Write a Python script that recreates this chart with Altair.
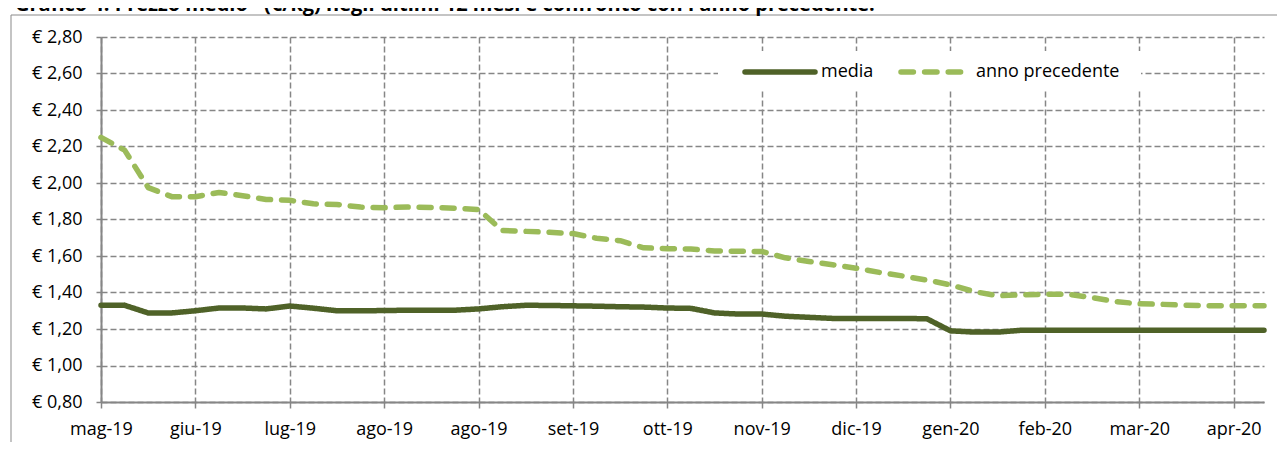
import altair as alt
import pandas as pd

# ---- data ----
date = [
    "2019-05-09", "2019-05-16", "2019-05-23", "2019-05-30",
    "2019-06-06", "2019-06-13", "2019-06-20", "2019-06-27",
    "2019-07-04", "2019-07-11", "2019-07-18", "2019-07-25",
    "2019-08-01", "2019-08-08", "2019-08-15", "2019-08-22",
    "2019-08-29", "2019-09-05", "2019-09-12", "2019-09-19",
    "2019-09-26", "2019-10-03", "2019-10-10", "2019-10-17",
    "2019-10-24", "2019-10-31", "2019-11-07", "2019-11-14",
    "2019-11-21", "2019-11-28", "2019-12-05", "2019-12-12",
    "2019-12-19", "2019-12-26", "2020-01-02", "2020-01-09",
    "2020-01-16", "2020-01-23", "2020-01-30", "2020-02-06",
    "2020-02-13", "2020-02-20", "2020-02-27", "2020-03-05",
    "2020-03-12", "2020-03-19", "2020-03-26", "2020-04-02",
    "2020-04-09", "2020-04-18",
]

media = [
    1.330, 1.330, 1.288, 1.288, 1.300, 1.315, 1.315, 1.310,
    1.326, 1.314, 1.300, 1.300, 1.301, 1.303, 1.303, 1.303,
    1.310, 1.322, 1.330, 1.329, 1.327, 1.325, 1.322, 1.320,
    1.315, 1.313, 1.288, 1.282, 1.282, 1.270, 1.264, 1.258,
    1.258, 1.258, 1.258, 1.256, 1.190, 1.183, 1.183, 1.193,
    1.193, 1.193, 1.193, 1.193, 1.193, 1.193, 1.193, 1.193,
    1.193, 1.193,
]

anno_precedente = [
    2.250, 2.180, 1.975, 1.925, 1.925, 1.948, 1.930, 1.910,
    1.905, 1.886, 1.882, 1.868, 1.865, 1.868, 1.866, 1.862,
    1.855, 1.740, 1.735, 1.730, 1.723, 1.697, 1.684, 1.645,
    1.640, 1.638, 1.628, 1.626, 1.625, 1.590, 1.570, 1.552,
    1.533, 1.510, 1.490, 1.468, 1.442, 1.405, 1.382, 1.387,
    1.390, 1.390, 1.372, 1.350, 1.338, 1.335, 1.330, 1.327,
    1.327, 1.327,
]

etichette_x = ["mag-19", "giu-19", "lug-19", "ago-19", "ago-19", "set-19",
               "ott-19", "nov-19", "dic-19", "gen-20", "feb-20", "mar-20",
               "apr-20"]
valori_y = [0.8, 1.0, 1.2, 1.4, 1.6, 1.8, 2.0, 2.2, 2.4, 2.6, 2.8]
serie = ["media", "anno precedente"]
colori = ["#4F6228", "#9BBB59"]
titolo = ("Grafico 4: Prezzo medio* (€/kg) negli ultimi 12 mesi "
          "e confronto con l'anno precedente.")

# ---- build table ----
d = pd.to_datetime(pd.Series(date))
giorni = (d - d.iloc[0]).dt.days.tolist()
tick_x = giorni[0::4]
df = pd.concat([
    pd.DataFrame({"giorno": giorni, "prezzo": media, "serie": serie[0]}),
    pd.DataFrame({"giorno": giorni, "prezzo": anno_precedente, "serie": serie[1]}),
])

W, H = 1163, 365
FONT = "Open Sans"
FS = 18
GRID = "#868686"

label_js = "[" + ",".join("'%s'" % s for s in etichette_x) + "]"

x_enc = alt.X(
    "giorno:Q",
    scale=alt.Scale(domain=[0, giorni[-1]], nice=False, zero=False),
    axis=alt.Axis(values=tick_x, title=None,
                  labelExpr=label_js + "[round(datum.value/28)]",
                  grid=True, gridDash=[6, 3], gridColor=GRID, gridWidth=1.5,
                  domainColor=GRID, domainWidth=2, tickColor=GRID, tickWidth=1.5,
                  tickSize=6, labelPadding=12, labelFont=FONT, labelFontSize=FS,
                  labelColor="#000000", labelOverlap=False, labelBound=False,
                  labelFlush=False),
)
y_enc = alt.Y(
    "prezzo:Q",
    scale=alt.Scale(domain=[0.8, 2.8], nice=False, zero=False),
    axis=alt.Axis(values=valori_y, title=None,
                  labelExpr="'€ ' + replace(format(datum.value, '.2f'), '.', ',')",
                  grid=True, gridDash=[6, 3], gridColor=GRID, gridWidth=1.5,
                  domainColor=GRID, domainWidth=2, tickColor=GRID, tickWidth=1.5,
                  tickSize=5, labelPadding=14, labelFont=FONT, labelFontSize=FS,
                  labelColor="#000000", labelOverlap=False, labelBound=False,
                  labelFlush=False),
)

lines = alt.Chart(df).mark_line(strokeWidth=5.5, strokeCap="round",
                                strokeJoin="round").encode(
    x=x_enc,
    y=y_enc,
    color=alt.Color("serie:N", scale=alt.Scale(domain=serie, range=colori),
                    legend=None),
    strokeDash=alt.StrokeDash("serie:N",
                              scale=alt.Scale(domain=serie,
                                              range=[[1, 0], [12, 11]]),
                              legend=None),
    detail="serie:N",
)

one = pd.DataFrame({"k": [0]})

frame_top = alt.Chart(one).mark_rule(color="#898989", strokeWidth=1).encode(
    x=alt.value(-90), x2=alt.value(W + 21), y=alt.value(-22),
)
frame_left = alt.Chart(one).mark_rule(color="#898989", strokeWidth=1).encode(
    x=alt.value(-90), y=alt.value(-22), y2=alt.value(H + 48),
)

title = alt.Chart(one).mark_text(align="left", baseline="alphabetic",
                                 font=FONT, fontSize=20, fontWeight="bold",
                                 color="#000000").encode(
    x=alt.value(-86), y=alt.value(-26), text=alt.value(titolo),
)

leg_box = alt.Chart(one).mark_rect(fill="white", stroke=None).encode(
    x=alt.value(617), x2=alt.value(1040), y=alt.value(14), y2=alt.value(52),
)
leg_media = alt.Chart(one).mark_rule(color=colori[0], strokeWidth=5.5,
                                     strokeCap="round").encode(
    x=alt.value(644), x2=alt.value(714), y=alt.value(35),
)
leg_media_t = alt.Chart(one).mark_text(align="left", baseline="middle",
                                       font=FONT, fontSize=FS,
                                       color="#000000").encode(
    x=alt.value(720), y=alt.value(35), text=alt.value(serie[0]),
)
leg_prec = alt.Chart(one).mark_rule(color=colori[1], strokeWidth=5.5,
                                    strokeCap="round",
                                    strokeDash=[12.4, 11.2]).encode(
    x=alt.value(800), x2=alt.value(861), y=alt.value(35),
)
leg_prec_t = alt.Chart(one).mark_text(align="left", baseline="middle",
                                      font=FONT, fontSize=FS,
                                      color="#000000").encode(
    x=alt.value(875), y=alt.value(35), text=alt.value(serie[1]),
)

chart = alt.layer(
    frame_top, frame_left, title, lines, leg_box, leg_media, leg_media_t,
    leg_prec, leg_prec_t
).properties(
    width=W, height=H,
    autosize=alt.AutoSizeParams(type="none"),
    padding={"left": 93, "top": 29, "right": 13, "bottom": 40},
).configure(background="transparent").configure_view(stroke=None)

chart.save("out.html", embed_options={"renderer": "svg", "actions": False})
